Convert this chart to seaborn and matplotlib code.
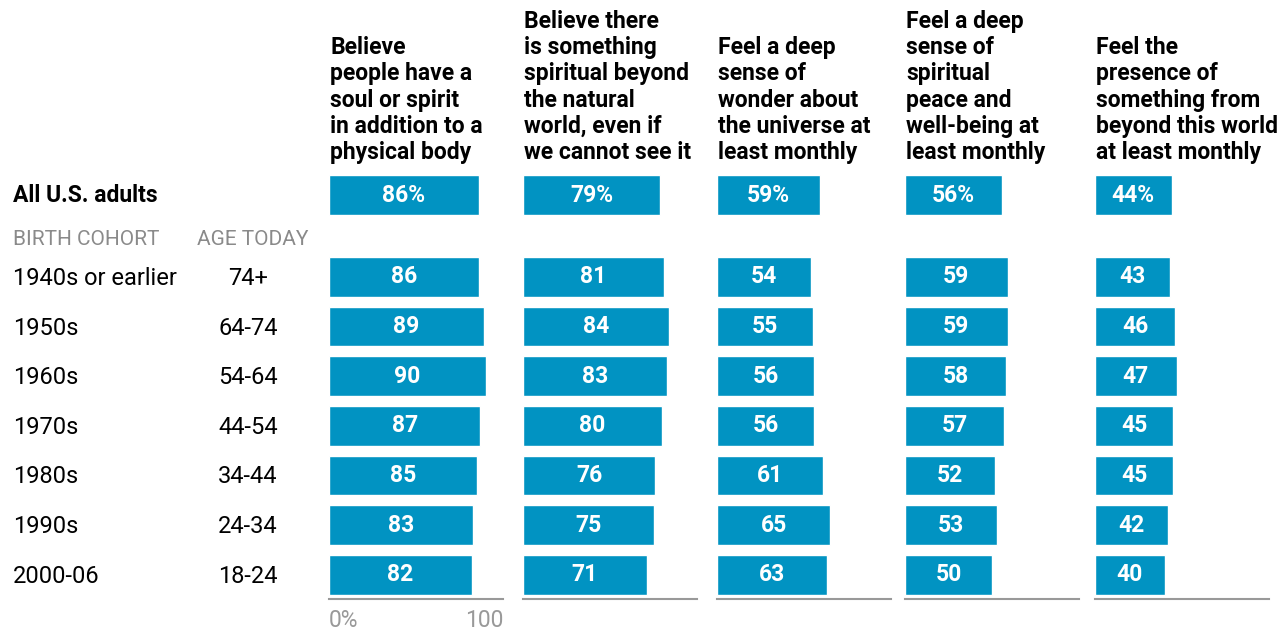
import pandas as pd
import matplotlib
matplotlib.use("Agg")
import matplotlib.pyplot as plt
import matplotlib.transforms as mtransforms
import seaborn as sns

# Chart data
questions = [
    "Believe\npeople have a\nsoul or spirit\nin addition to a\nphysical body",
    "Believe there\nis something\nspiritual beyond\nthe natural\nworld, even if\nwe cannot see it",
    "Feel a deep\nsense of\nwonder about\nthe universe at\nleast monthly",
    "Feel a deep\nsense of\nspiritual\npeace and\nwell-being at\nleast monthly",
    "Feel the\npresence of\nsomething from\nbeyond this world\nat least monthly",
]
groups = ["All U.S. adults", "1940s or earlier", "1950s", "1960s", "1970s", "1980s", "1990s", "2000-06"]
ages = ["", "74+", "64-74", "54-64", "44-54", "34-44", "24-34", "18-24"]
soul = [86, 86, 89, 90, 87, 85, 83, 82]
beyond = [79, 81, 84, 83, 80, 76, 75, 71]
wonder = [59, 54, 55, 56, 56, 61, 65, 63]
peace = [56, 59, 59, 58, 57, 52, 53, 50]
presence = [44, 43, 46, 47, 45, 45, 42, 40]
values = [soul, beyond, wonder, peace, presence]

# row positions (the total row sits a bit above the cohort rows)
positions = [-1.65, 0, 1, 2, 3, 4, 5, 6]

rows = []
for q, vals in zip(questions, values):
    for g, p, v in zip(groups, positions, vals):
        rows.append({"question": q, "group": g, "pos": p, "value": v})
df = pd.DataFrame(rows)

sns.set_theme(style="white")
plt.rcParams["font.family"] = ["Roboto", "DejaVu Sans"]

W, H = 1286, 631
fig = plt.figure(figsize=(W / 100, H / 100), dpi=100)

blue = "#0193c2"
grey = "#999999"
panel_x = [329, 523, 717, 905, 1095]
panel_w = 174
top_px, base_px = 172.8, 599
ylim = (6.49, -2.1)

axes = []
for i, q in enumerate(questions):
    ax = fig.add_axes([panel_x[i] / W, 1 - base_px / H, panel_w / W, (base_px - top_px) / H])
    sub = df[df["question"] == q]
    sns.barplot(data=sub, x="value", y="pos", orient="h", native_scale=True,
                color=blue, saturation=1, ax=ax, errorbar=None)
    ax.set_xlim(0, 100)
    ax.set_ylim(*ylim)
    ax.set_xlabel("")
    ax.set_ylabel("")
    ax.set_yticks([])
    for s in ["top", "left", "right"]:
        ax.spines[s].set_visible(False)
    ax.spines["bottom"].set_color(grey)
    ax.spines["bottom"].set_linewidth(1.5)
    labels = []
    for bar in ax.containers[0]:
        v = bar.get_width()
        yc = bar.get_y() + bar.get_height() / 2
        labels.append(f"{v:.0f}%" if yc < -1 else f"{v:.0f}")
    ax.bar_label(ax.containers[0], labels=labels, label_type="center",
                 color="white", fontsize=16.5, fontweight="bold")
    if i == 0:
        ax.set_xticks([0, 100])
        ax.set_xticklabels(["0%", "100"], color=grey, fontsize=16.5)
        ax.get_xticklabels()[0].set_ha("left")
        ax.get_xticklabels()[1].set_ha("right")
        ax.tick_params(axis="x", length=0, pad=7)
    else:
        ax.set_xticks([])
    fig.text(panel_x[i] / W + 0.0008, 1 - 159 / H, q, ha="left", va="baseline",
             fontsize=16.5, fontweight="bold", color="black", linespacing=1.18)
    axes.append(ax)

# left-hand labels
ax0 = axes[0]
tr = mtransforms.blended_transform_factory(fig.transFigure, ax0.transData)
for g, a, p in zip(groups, ages, positions):
    if p < -1:
        ax0.text(13 / W, p, g, transform=tr, ha="left", va="center",
                 fontsize=16.5, fontweight="bold", color="black", clip_on=False)
    else:
        ax0.text(13 / W, p + 0.03, g, transform=tr, ha="left", va="center",
                 fontsize=17, color="black", clip_on=False)
        ax0.text(248 / W, p + 0.03, a, transform=tr, ha="center", va="center",
                 fontsize=17, color="black", clip_on=False)
ax0.text(13 / W, -0.75, "BIRTH COHORT", transform=tr, ha="left", va="center",
         fontsize=15, color="#8a8a8a", clip_on=False)
ax0.text(197 / W, -0.75, "AGE TODAY", transform=tr, ha="left", va="center",
         fontsize=15, color="#8a8a8a", clip_on=False)

fig.savefig("out.png", dpi=100)
